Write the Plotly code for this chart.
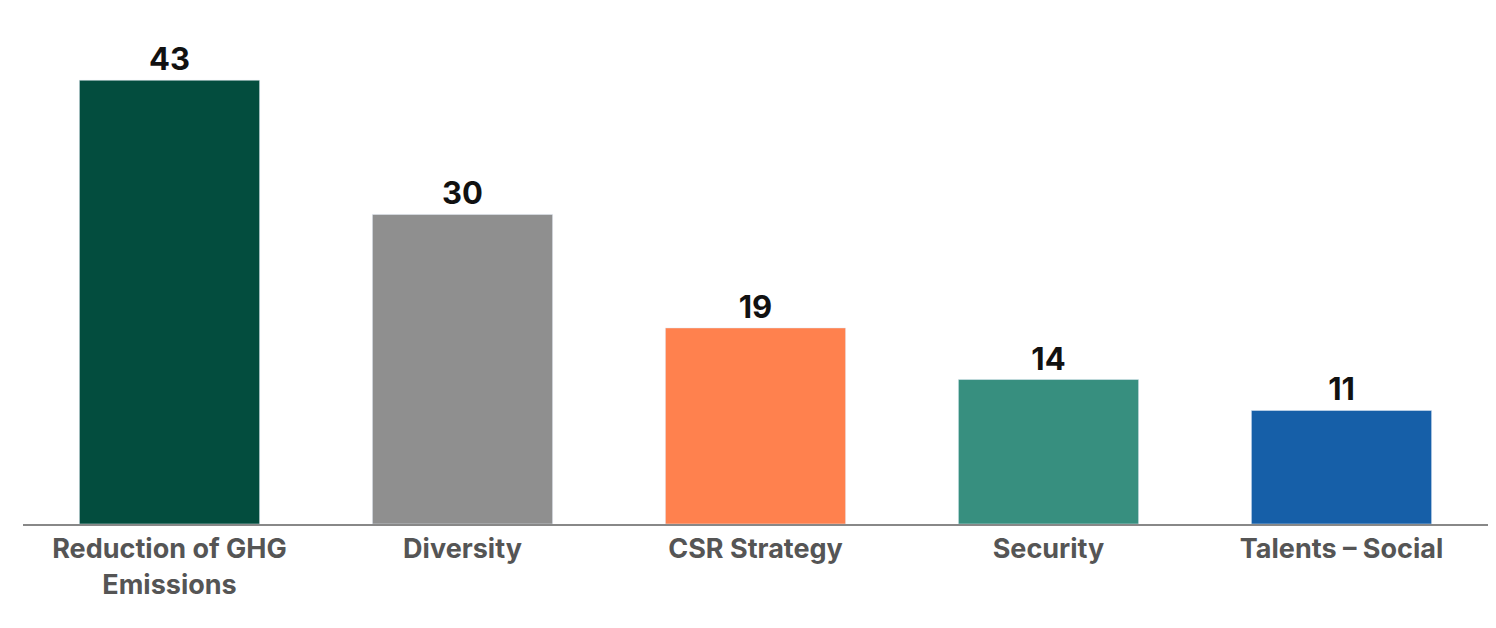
import plotly.graph_objects as go

categories = ["Reduction of GHG<br>Emissions", "Diversity", "CSR Strategy", "Security", "Talents – Social"]
values = [43, 30, 19, 14, 11]
colors = ["#034d3e", "#8f8f8f", "#ff814e", "#378f7f", "#165fa8"]

fig = go.Figure(go.Bar(
    x=categories, y=values, marker_color=colors, width=0.615,
    text=[str(v) for v in values], textposition="outside", cliponaxis=False,
    textfont=dict(family="Inter", size=31, color="#111111", weight="bold"),
))
fig.update_layout(
    width=1496, height=628, margin=dict(l=15, r=16, t=0, b=112),
    plot_bgcolor="white", paper_bgcolor="white", showlegend=False,
    font=dict(family="Inter"),
)
fig.update_xaxes(showline=True, linecolor="#888888", linewidth=2, ticks="",
                 tickfont=dict(family="Inter", size=27, color="#555555", weight="bold"))
fig.update_yaxes(range=[0, 50], visible=False)
fig.write_html("out.html")
